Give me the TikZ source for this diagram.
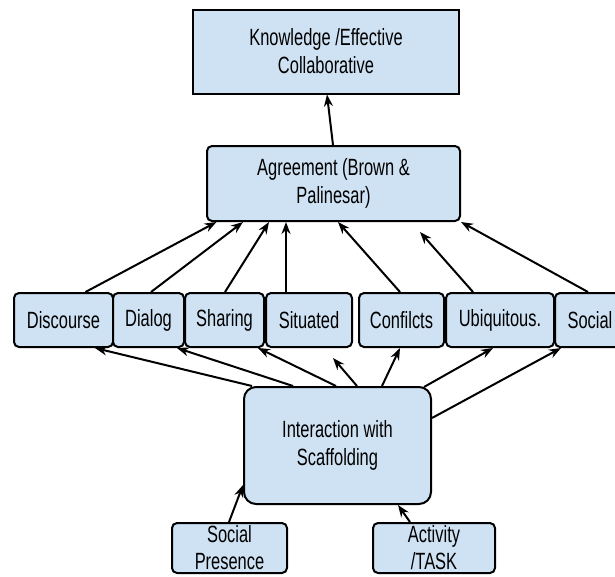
\documentclass[tikz,border=0pt]{standalone}
\usepackage{fontspec}
\setmainfont{Liberation Sans}[FakeStretch=0.7]
\usetikzlibrary{arrows.meta}

\definecolor{boxblue}{HTML}{CFE2F3}

\tikzset{
	box/.style={draw=black, line width=2pt, fill=boxblue, align=center, inner sep=0pt,
		rounded corners=5pt, minimum height=54pt,
		font=\fontsize{23.5}{28}\selectfont},
	sqbox/.style={box, sharp corners},
	bigbox/.style={box, rounded corners=12pt},
	lowbox/.style={box, minimum height=50pt, font=\fontsize{23.5}{27}\selectfont},
	arr/.style={-{Stealth[length=12pt, width=9pt]}, line width=2pt}
}

\begin{document}
\begin{tikzpicture}[x=1pt, y=-1pt]
	\useasboundingbox (0,0) rectangle (615,576);

	% Nodes {know, agree}
	\node [sqbox, minimum width=266pt, minimum height=84pt] (know)  at (326,51.5)   {Knowledge /Effective\\Collaborative};
	\node [box, minimum width=253pt, minimum height=75pt]   (agree) at (333.5,183.5) {Agreement (Brown \&\\Palinesar)};

	% Nodes {disc, dial, shar, situ, conf, ubiq, soc}
	\node [box, minimum width=99pt]  (disc) at (63.5,320)  {Discourse};
	\node [box, minimum width=71pt]  (dial) at (148.5,320) {Dialog};
	\node [box, minimum width=79pt]  (shar) at (224.5,320) {Sharing};
	\node [box, minimum width=86pt]  (situ) at (309,320)   {Situated};
	\node [box, minimum width=85pt]  (conf) at (401.5,320) {Confilcts};
	\node [box, minimum width=108pt] (ubiq) at (500,320)   {Ubiquitous.};
	\node [box, minimum width=70pt]  (soc)  at (590,320)   {Social};
	\coordinate (ubiqend) at (420,232);
	\coordinate (interend) at (333,358);

	% Nodes {inter, pres, act}
	\node [bigbox, minimum width=187pt, minimum height=117pt] (inter) at (337.5,445.5) {Interaction with\\Scaffolding};
	\node [lowbox, minimum width=115pt] (pres) at (229.5,548) {Social\\Presence};
	\node [lowbox, minimum width=122pt] (act)  at (434,548)   {Activity\\/TASK};

	% Paths up to the top
	\path [arr]	([xshift=-0.5]agree.north) edge ([xshift=1]know.south)
				([xshift=22]disc.north)    edge ([xshift=-117]agree.south)
				([xshift=2.5]dial.north)   edge ([xshift=-90.5]agree.south)
				([xshift=0.5]shar.north)   edge ([xshift=-64.5]agree.south)
				([xshift=-23]situ.north)   edge ([xshift=-47.5]agree.south)
				([xshift=-1.5]conf.north)  edge ([xshift=4.5]agree.south)
				([xshift=-27]ubiq.north)   edge (ubiqend)
				([xshift=-2]soc.north)     edge (agree.south east);

	% Paths out of the interaction
	\path [arr]	([xshift=-85.5]inter.north) edge ([xshift=31.5]disc.south)
				([xshift=-44.5]inter.north) edge ([xshift=28.5]dial.south)
				([xshift=-1.5]inter.north)  edge ([xshift=33.5]shar.south)
				([xshift=19.5]inter.north)  edge (interend)
				([xshift=44.5]inter.north)  edge ([xshift=-1.5]conf.south)
				([xshift=86.5,yshift=-1]inter.north) edge ([xshift=-7]ubiq.south)
				([yshift=27.5]inter.east)   edge ([xshift=-29]soc.south)
				([xshift=-0.5]pres.north)   edge ([yshift=-39.5]inter.west)
				([xshift=-24]act.north)     edge ([xshift=60.5]inter.south);
\end{tikzpicture}
\end{document}
